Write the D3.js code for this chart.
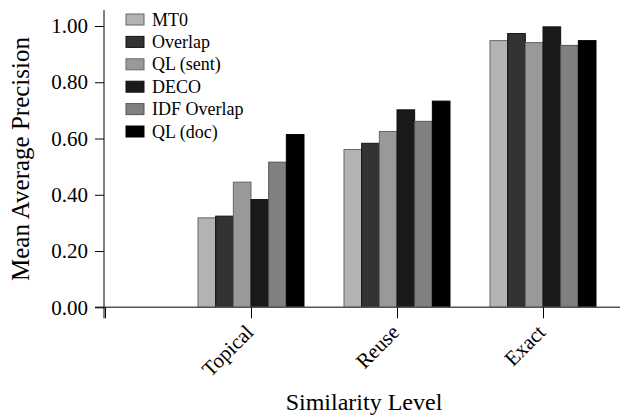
<!DOCTYPE html>
<html>
<head>
<meta charset="utf-8">
<script src="https://cdn.jsdelivr.net/npm/d3@7"></script>
<style>
body { margin: 0; background: #fff; }
svg text { font-family: "Liberation Serif", "Times New Roman", "DejaVu Serif", serif; fill: #000; }
</style>
</head>
<body>
<svg id="chart" width="620" height="416"></svg>
<script>
var levels = ["", "Topical", "Reuse", "Exact"];
var methods = ["MT0", "Overlap", "QL (sent)", "DECO", "IDF Overlap", "QL (doc)"];
var fills = ["#b3b3b3", "#333333", "#999999", "#1a1a1a", "#808080", "#000000"];
var strokes = ["#666666", "#111111", "#666666", "#111111", "#555555", "#000000"];
// one row per level, one value per method
var scores = [
    [0, 0, 0, 0, 0, 0],
    [0.318, 0.324, 0.445, 0.383, 0.516, 0.614],
    [0.561, 0.583, 0.625, 0.702, 0.661, 0.733],
    [0.948, 0.973, 0.941, 0.997, 0.931, 0.948]
];
var yTicks = [0, 0.2, 0.4, 0.6, 0.8, 1.0];

var svg = d3.select("#chart");
var plotLeft = 104, plotBottom = 307.3, plotTop = 26;
var serif = '"Liberation Serif", "Times New Roman", "DejaVu Serif", serif';

var x = d3.scalePoint().domain(levels).range([105, 543]);
var xInner = d3.scaleBand().domain(methods).range([-53, 53]);
var y = d3.scaleLinear().domain([0, 1]).range([plotBottom, plotTop]);

svg.append("clipPath").attr("id", "plot")
    .append("rect").attr("x", plotLeft).attr("y", 0).attr("width", 620 - plotLeft).attr("height", 416);

var gBars = svg.append("g").attr("clip-path", "url(#plot)");
levels.forEach(function(lv, i){
    var g = gBars.append("g").attr("transform", "translate(" + x(lv) + ",0)");
    g.selectAll("rect").data(scores[i]).enter().append("rect")
        .attr("x", function(d, j){ return xInner(methods[j]); })
        .attr("width", xInner.bandwidth())
        .attr("y", function(d){ return y(d); })
        .attr("height", function(d){ return plotBottom - y(d); })
        .style("fill", function(d, j){ return fills[j]; })
        .style("stroke", function(d, j){ return strokes[j]; })
        .style("stroke-width", 1);
});

// x axis
svg.append("line").attr("x1", 95).attr("x2", 620).attr("y1", plotBottom).attr("y2", plotBottom)
    .style("stroke", "#555").style("stroke-width", 1.5);
var xAxis = svg.append("g").attr("transform", "translate(0," + plotBottom + ")")
    .call(d3.axisBottom(x).tickSize(11).tickPadding(4));
xAxis.select(".domain").remove();
xAxis.selectAll("line").style("stroke", "#000");
xAxis.selectAll("text")
    .style("font-size", "21px")
    .style("font-family", serif)
    .attr("text-anchor", "end")
    .attr("y", 0)
    .attr("dy", "0.35em")
    .attr("transform", "translate(-2,21) rotate(-45)");

// y axis
var yAxis = svg.append("g").attr("transform", "translate(" + plotLeft + ",0)")
    .call(d3.axisLeft(y).tickValues(yTicks).tickSize(9).tickPadding(7).tickFormat(d3.format(".2f")));
yAxis.select(".domain").remove();
svg.append("line").attr("x1", plotLeft).attr("x2", plotLeft).attr("y1", 10).attr("y2", plotBottom + 11)
    .style("stroke", "#000").style("stroke-width", 1);
yAxis.selectAll("line").style("stroke", "#000");
yAxis.selectAll("text").style("font-size", "21px").style("font-family", serif);

// axis titles
svg.append("text").attr("transform", "translate(29,159) rotate(-90)")
    .attr("text-anchor", "middle").style("font-size", "25px").style("font-family", serif)
    .text("Mean Average Precision");
svg.append("text").attr("x", 364).attr("y", 410)
    .attr("text-anchor", "middle").style("font-size", "24px").style("font-family", serif)
    .text("Similarity Level");

// legend
var legend = svg.append("g").attr("transform", "translate(126,14)");
var rows = legend.selectAll("g").data(methods).enter().append("g")
    .attr("transform", function(d, i){ return "translate(0," + (i * 22.4) + ")"; });
rows.append("rect").attr("width", 18).attr("height", 11)
    .style("fill", function(d, i){ return fills[i]; })
    .style("stroke", function(d, i){ return strokes[i]; });
rows.append("text").attr("x", 26).attr("y", 11.5)
    .style("font-size", "18px").style("font-family", serif)
    .text(function(d){ return d; });
</script>
</body>
</html>
